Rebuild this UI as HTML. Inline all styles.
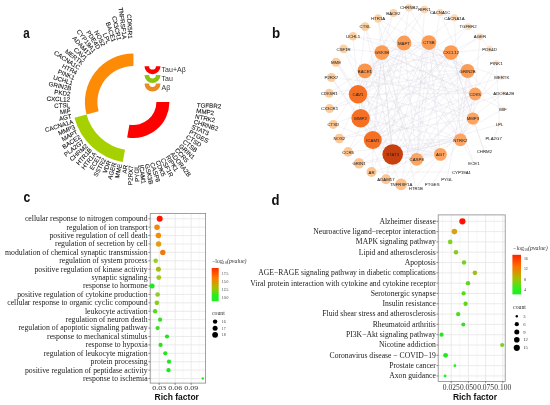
<!DOCTYPE html><html><head><meta charset="utf-8"><style>html,body{margin:0;padding:0;background:#fff;width:550px;height:405px;overflow:hidden}svg{display:block;filter:blur(0.3px)}</style></head><body><svg width="550" height="405" viewBox="0 0 550 405"><rect width="550" height="405" fill="#fff"/><g font-family='"Liberation Sans", sans-serif' font-weight="bold" font-size="14.5" fill="#111">
<text transform="translate(23.3 37.6) scale(0.8 1)">a</text>
<text transform="translate(271.9 37.6) scale(0.92 1)">b</text>
<text transform="translate(23.5 202.2) scale(0.84 1)">c</text>
<text transform="translate(271.6 204.8) scale(0.9 1)">d</text>
</g>
<path d="M169.40,102.00A36,36 0 0 1 127.15,137.45L129.41,124.65A23,23 0 0 0 156.40,102.00Z" fill="#ff0000"/>
<path d="M122.81,162.07A61,61 0 0 1 74.48,117.79L86.55,114.55A48.5,48.5 0 0 0 124.98,149.76Z" fill="#a6d000"/>
<path d="M86.55,114.55A48.5,48.5 0 0 1 133.40,53.50L133.40,66.00A36,36 0 0 0 98.63,111.32Z" fill="#fd8b05"/>
<g font-family='"Liberation Sans", sans-serif' font-size="6.2" fill="#111" stroke="#111" stroke-width="0.08">
<text x="130.63" y="38.56" text-anchor="end" dominant-baseline="central" transform="rotate(87.50 130.63 38.56)">CDK5R1</text>
<text x="125.11" y="39.04" text-anchor="end" dominant-baseline="central" transform="rotate(82.50 125.11 39.04)">TNFRSF1A</text>
<text x="119.66" y="40.01" text-anchor="end" dominant-baseline="central" transform="rotate(77.50 119.66 40.01)">CX3CR1</text>
<text x="114.31" y="41.44" text-anchor="end" dominant-baseline="central" transform="rotate(72.50 114.31 41.44)">BACE1</text>
<text x="109.10" y="43.33" text-anchor="end" dominant-baseline="central" transform="rotate(67.50 109.10 43.33)">LPL</text>
<text x="104.08" y="45.67" text-anchor="end" dominant-baseline="central" transform="rotate(62.50 104.08 45.67)">NOS2</text>
<text x="99.28" y="48.44" text-anchor="end" dominant-baseline="central" transform="rotate(57.50 99.28 48.44)">PDE4D</text>
<text x="94.74" y="51.62" text-anchor="end" dominant-baseline="central" transform="rotate(52.50 94.74 51.62)">CYP19A1</text>
<text x="90.50" y="55.18" text-anchor="end" dominant-baseline="central" transform="rotate(47.50 90.50 55.18)">ADAM17</text>
<text x="86.58" y="59.10" text-anchor="end" dominant-baseline="central" transform="rotate(42.50 86.58 59.10)">CAV1</text>
<text x="83.02" y="63.34" text-anchor="end" dominant-baseline="central" transform="rotate(37.50 83.02 63.34)">MERTK</text>
<text x="79.84" y="67.88" text-anchor="end" dominant-baseline="central" transform="rotate(32.50 79.84 67.88)">CACNA1C</text>
<text x="77.07" y="72.68" text-anchor="end" dominant-baseline="central" transform="rotate(27.50 77.07 72.68)">HTR4</text>
<text x="74.73" y="77.70" text-anchor="end" dominant-baseline="central" transform="rotate(22.50 74.73 77.70)">PINK1</text>
<text x="72.84" y="82.91" text-anchor="end" dominant-baseline="central" transform="rotate(17.50 72.84 82.91)">UCHL1</text>
<text x="71.41" y="88.26" text-anchor="end" dominant-baseline="central" transform="rotate(12.50 71.41 88.26)">GRIN2B</text>
<text x="70.44" y="93.71" text-anchor="end" dominant-baseline="central" transform="rotate(7.50 70.44 93.71)">PKD2</text>
<text x="69.96" y="99.23" text-anchor="end" dominant-baseline="central" transform="rotate(2.50 69.96 99.23)">CXCL12</text>
<text x="69.96" y="104.77" text-anchor="end" dominant-baseline="central" transform="rotate(-2.50 69.96 104.77)">CTSL</text>
<text x="70.44" y="110.29" text-anchor="end" dominant-baseline="central" transform="rotate(-7.50 70.44 110.29)">MIF</text>
<text x="71.41" y="115.74" text-anchor="end" dominant-baseline="central" transform="rotate(-12.50 71.41 115.74)">AGT</text>
<text x="72.84" y="121.09" text-anchor="end" dominant-baseline="central" transform="rotate(-17.50 72.84 121.09)">CACNA1A</text>
<text x="74.73" y="126.30" text-anchor="end" dominant-baseline="central" transform="rotate(-22.50 74.73 126.30)">MMP3</text>
<text x="77.07" y="131.32" text-anchor="end" dominant-baseline="central" transform="rotate(-27.50 77.07 131.32)">MAPT</text>
<text x="79.84" y="136.12" text-anchor="end" dominant-baseline="central" transform="rotate(-32.50 79.84 136.12)">BACE2</text>
<text x="83.02" y="140.66" text-anchor="end" dominant-baseline="central" transform="rotate(-37.50 83.02 140.66)">PLA2G7</text>
<text x="86.58" y="144.90" text-anchor="end" dominant-baseline="central" transform="rotate(-42.50 86.58 144.90)">CHRM2</text>
<text x="90.50" y="148.82" text-anchor="end" dominant-baseline="central" transform="rotate(-47.50 90.50 148.82)">HTR1B</text>
<text x="94.74" y="152.38" text-anchor="end" dominant-baseline="central" transform="rotate(-52.50 94.74 152.38)">HTR1A</text>
<text x="99.28" y="155.56" text-anchor="end" dominant-baseline="central" transform="rotate(-57.50 99.28 155.56)">ECE1</text>
<text x="104.08" y="158.33" text-anchor="end" dominant-baseline="central" transform="rotate(-62.50 104.08 158.33)">SSTR2</text>
<text x="109.10" y="160.67" text-anchor="end" dominant-baseline="central" transform="rotate(-67.50 109.10 160.67)">VDR</text>
<text x="114.31" y="162.56" text-anchor="end" dominant-baseline="central" transform="rotate(-72.50 114.31 162.56)">AGER</text>
<text x="119.66" y="163.99" text-anchor="end" dominant-baseline="central" transform="rotate(-77.50 119.66 163.99)">MME</text>
<text x="125.11" y="164.96" text-anchor="end" dominant-baseline="central" transform="rotate(-82.50 125.11 164.96)">AR</text>
<text x="130.63" y="165.44" text-anchor="end" dominant-baseline="central" transform="rotate(-87.50 130.63 165.44)">P2RX7</text>
<text x="136.17" y="165.44" text-anchor="end" dominant-baseline="central" transform="rotate(-92.50 136.17 165.44)">PYGL</text>
<text x="141.69" y="164.96" text-anchor="start" dominant-baseline="central" transform="rotate(82.50 141.69 164.96)">ICAM1</text>
<text x="147.14" y="163.99" text-anchor="start" dominant-baseline="central" transform="rotate(77.50 147.14 163.99)">GSK3B</text>
<text x="152.49" y="162.56" text-anchor="start" dominant-baseline="central" transform="rotate(72.50 152.49 162.56)">CASP8</text>
<text x="157.70" y="160.67" text-anchor="start" dominant-baseline="central" transform="rotate(67.50 157.70 160.67)">CDK5</text>
<text x="162.72" y="158.33" text-anchor="start" dominant-baseline="central" transform="rotate(62.50 162.72 158.33)">CSF1R</text>
<text x="167.52" y="155.56" text-anchor="start" dominant-baseline="central" transform="rotate(57.50 167.52 155.56)">RIPK1</text>
<text x="172.06" y="152.38" text-anchor="start" dominant-baseline="central" transform="rotate(52.50 172.06 152.38)">ADORA2B</text>
<text x="176.30" y="148.82" text-anchor="start" dominant-baseline="central" transform="rotate(47.50 176.30 148.82)">CCR5</text>
<text x="180.22" y="144.90" text-anchor="start" dominant-baseline="central" transform="rotate(42.50 180.22 144.90)">GRIN1</text>
<text x="183.78" y="140.66" text-anchor="start" dominant-baseline="central" transform="rotate(37.50 183.78 140.66)">CTSB</text>
<text x="186.96" y="136.12" text-anchor="start" dominant-baseline="central" transform="rotate(32.50 186.96 136.12)">CTSD</text>
<text x="189.73" y="131.32" text-anchor="start" dominant-baseline="central" transform="rotate(27.50 189.73 131.32)">PTGES</text>
<text x="192.07" y="126.30" text-anchor="start" dominant-baseline="central" transform="rotate(22.50 192.07 126.30)">STAT3</text>
<text x="193.96" y="121.09" text-anchor="start" dominant-baseline="central" transform="rotate(17.50 193.96 121.09)">CHRNB2</text>
<text x="195.39" y="115.74" text-anchor="start" dominant-baseline="central" transform="rotate(12.50 195.39 115.74)">NTRK2</text>
<text x="196.36" y="110.29" text-anchor="start" dominant-baseline="central" transform="rotate(7.50 196.36 110.29)">MMP2</text>
<text x="196.84" y="104.77" text-anchor="start" dominant-baseline="central" transform="rotate(2.50 196.84 104.77)">TGFBR2</text>
</g>
<path d="M144.5,66.2 A8.0,8.0 0 0 0 160.5,66.2 L155.9,66.2 A3.4,3.4 0 0 1 149.1,66.2 Z" fill="#ff0000"/>
<path d="M144.5,75.0 A8.0,8.0 0 0 0 160.5,75.0 L155.9,75.0 A3.4,3.4 0 0 1 149.1,75.0 Z" fill="#8cc414"/>
<path d="M144.5,83.6 A8.0,8.0 0 0 0 160.5,83.6 L155.9,83.6 A3.4,3.4 0 0 1 149.1,83.6 Z" fill="#ec8a22"/>
<g font-family='"Liberation Sans", sans-serif' font-size="7" fill="#333">
<text x="161.6" y="72">Tau+Aβ</text>
<text x="161.6" y="80.6">Tau</text>
<text x="161.6" y="89.6">Aβ</text>
</g>
<g stroke="#d2d0dc" stroke-width="0.9" fill="none" stroke-opacity="0.3">
<line x1="440.4" y1="154.4" x2="358.0" y2="94.2"/>
<line x1="460.4" y1="139.8" x2="360.6" y2="118.3"/>
<line x1="460.4" y1="139.8" x2="348.1" y2="151.9"/>
<line x1="372.8" y1="140.0" x2="360.6" y2="118.3"/>
<line x1="460.4" y1="139.8" x2="496.3" y2="63.0"/>
<line x1="460.4" y1="139.8" x2="474.0" y2="163.4"/>
<line x1="460.4" y1="139.8" x2="416.7" y2="159.3"/>
<line x1="381.9" y1="52.6" x2="339.3" y2="138.5"/>
<line x1="358.0" y1="94.2" x2="468.0" y2="26.7"/>
<line x1="372.8" y1="140.0" x2="331.4" y2="77.5"/>
<line x1="467.6" y1="71.0" x2="447.0" y2="179.3"/>
<line x1="358.0" y1="94.2" x2="454.4" y2="17.8"/>
<line x1="372.8" y1="140.0" x2="358.0" y2="94.2"/>
<line x1="472.9" y1="118.6" x2="432.2" y2="184.4"/>
<line x1="467.6" y1="71.0" x2="416.7" y2="159.3"/>
<line x1="475.2" y1="94.0" x2="372.8" y2="140.0"/>
<line x1="416.7" y1="159.3" x2="365.1" y2="26.7"/>
<line x1="358.0" y1="94.2" x2="336.0" y2="62.2"/>
<line x1="404.0" y1="43.0" x2="428.9" y2="42.6"/>
<line x1="381.9" y1="52.6" x2="393.4" y2="13.0"/>
<line x1="440.0" y1="12.6" x2="454.4" y2="17.8"/>
<line x1="404.0" y1="43.0" x2="348.1" y2="151.9"/>
<line x1="404.0" y1="43.0" x2="360.6" y2="118.3"/>
<line x1="496.3" y1="63.0" x2="499.5" y2="124.2"/>
<line x1="392.7" y1="154.5" x2="386.0" y2="179.3"/>
<line x1="475.2" y1="94.0" x2="392.7" y2="154.5"/>
<line x1="472.9" y1="118.6" x2="440.4" y2="154.4"/>
<line x1="428.9" y1="42.6" x2="372.8" y2="140.0"/>
<line x1="472.9" y1="118.6" x2="358.0" y2="94.2"/>
<line x1="404.0" y1="43.0" x2="424.4" y2="9.6"/>
<line x1="428.9" y1="42.6" x2="371.5" y2="172.0"/>
<line x1="358.0" y1="94.2" x2="365.1" y2="26.7"/>
<line x1="416.7" y1="159.3" x2="440.0" y2="12.6"/>
<line x1="440.4" y1="154.4" x2="372.8" y2="140.0"/>
<line x1="428.9" y1="42.6" x2="475.2" y2="94.0"/>
<line x1="392.7" y1="154.5" x2="360.6" y2="118.3"/>
<line x1="460.4" y1="139.8" x2="454.4" y2="17.8"/>
<line x1="378.1" y1="18.5" x2="415.9" y2="188.1"/>
<line x1="475.2" y1="94.0" x2="364.9" y2="70.8"/>
<line x1="404.0" y1="43.0" x2="460.4" y2="139.8"/>
<line x1="467.6" y1="71.0" x2="353.0" y2="36.3"/>
<line x1="404.0" y1="43.0" x2="451.0" y2="52.6"/>
<line x1="489.6" y1="48.9" x2="480.0" y2="36.6"/>
<line x1="475.2" y1="94.0" x2="339.3" y2="138.5"/>
<line x1="392.7" y1="154.5" x2="365.1" y2="26.7"/>
<line x1="451.0" y1="52.6" x2="372.8" y2="140.0"/>
<line x1="416.7" y1="159.3" x2="336.0" y2="62.2"/>
<line x1="381.9" y1="52.6" x2="428.9" y2="42.6"/>
<line x1="416.7" y1="159.3" x2="371.5" y2="172.0"/>
<line x1="440.4" y1="154.4" x2="359.0" y2="163.3"/>
<line x1="381.9" y1="52.6" x2="360.6" y2="118.3"/>
<line x1="451.0" y1="52.6" x2="475.2" y2="94.0"/>
<line x1="392.7" y1="154.5" x2="343.6" y2="48.9"/>
<line x1="501.8" y1="77.4" x2="386.0" y2="179.3"/>
<line x1="364.9" y1="70.8" x2="409.0" y2="7.7"/>
<line x1="381.9" y1="52.6" x2="329.6" y2="108.6"/>
<line x1="360.6" y1="118.3" x2="331.4" y2="77.5"/>
<line x1="381.9" y1="52.6" x2="424.4" y2="9.6"/>
<line x1="460.4" y1="139.8" x2="358.0" y2="94.2"/>
<line x1="428.9" y1="42.6" x2="467.6" y2="71.0"/>
<line x1="428.9" y1="42.6" x2="364.9" y2="70.8"/>
<line x1="381.9" y1="52.6" x2="333.3" y2="124.4"/>
<line x1="440.4" y1="154.4" x2="364.9" y2="70.8"/>
<line x1="460.4" y1="139.8" x2="359.0" y2="163.3"/>
<line x1="440.4" y1="154.4" x2="415.9" y2="188.1"/>
<line x1="404.0" y1="43.0" x2="353.0" y2="36.3"/>
<line x1="404.0" y1="43.0" x2="386.0" y2="179.3"/>
<line x1="451.0" y1="52.6" x2="392.7" y2="154.5"/>
<line x1="381.9" y1="52.6" x2="460.4" y2="139.8"/>
<line x1="451.0" y1="52.6" x2="472.9" y2="118.6"/>
<line x1="451.0" y1="52.6" x2="484.4" y2="151.6"/>
<line x1="503.0" y1="108.8" x2="416.7" y2="159.3"/>
<line x1="467.6" y1="71.0" x2="359.0" y2="163.3"/>
<line x1="428.9" y1="42.6" x2="401.1" y2="184.4"/>
<line x1="451.0" y1="52.6" x2="467.6" y2="71.0"/>
<line x1="451.0" y1="52.6" x2="364.9" y2="70.8"/>
<line x1="404.0" y1="43.0" x2="416.7" y2="159.3"/>
<line x1="381.9" y1="52.6" x2="404.0" y2="43.0"/>
<line x1="404.0" y1="43.0" x2="501.8" y2="77.4"/>
<line x1="392.7" y1="154.5" x2="336.0" y2="62.2"/>
<line x1="404.0" y1="43.0" x2="358.0" y2="94.2"/>
<line x1="360.6" y1="118.3" x2="480.0" y2="36.6"/>
<line x1="472.9" y1="118.6" x2="484.4" y2="151.6"/>
<line x1="360.6" y1="118.3" x2="386.0" y2="179.3"/>
<line x1="460.4" y1="139.8" x2="372.8" y2="140.0"/>
<line x1="358.0" y1="94.2" x2="364.9" y2="70.8"/>
<line x1="472.9" y1="118.6" x2="364.9" y2="70.8"/>
<line x1="428.9" y1="42.6" x2="392.7" y2="154.5"/>
<line x1="440.4" y1="154.4" x2="392.7" y2="154.5"/>
<line x1="503.7" y1="93.3" x2="372.8" y2="140.0"/>
<line x1="467.6" y1="71.0" x2="372.8" y2="140.0"/>
<line x1="472.9" y1="118.6" x2="339.3" y2="138.5"/>
<line x1="475.2" y1="94.0" x2="331.4" y2="77.5"/>
<line x1="381.9" y1="52.6" x2="416.7" y2="159.3"/>
<line x1="364.9" y1="70.8" x2="393.4" y2="13.0"/>
<line x1="360.6" y1="118.3" x2="358.0" y2="94.2"/>
<line x1="358.0" y1="94.2" x2="329.2" y2="93.3"/>
<line x1="371.5" y1="172.0" x2="461.5" y2="172.1"/>
<line x1="358.0" y1="94.2" x2="401.1" y2="184.4"/>
<line x1="381.9" y1="52.6" x2="440.4" y2="154.4"/>
<line x1="475.2" y1="94.0" x2="460.4" y2="139.8"/>
<line x1="381.9" y1="52.6" x2="358.0" y2="94.2"/>
<line x1="460.4" y1="139.8" x2="392.7" y2="154.5"/>
<line x1="392.7" y1="154.5" x2="499.5" y2="124.2"/>
<line x1="416.7" y1="159.3" x2="392.7" y2="154.5"/>
<line x1="460.4" y1="139.8" x2="378.1" y2="18.5"/>
<line x1="428.9" y1="42.6" x2="474.0" y2="163.4"/>
<line x1="381.9" y1="52.6" x2="343.6" y2="48.9"/>
<line x1="472.9" y1="118.6" x2="409.0" y2="7.7"/>
<line x1="467.6" y1="71.0" x2="392.7" y2="154.5"/>
<line x1="404.0" y1="43.0" x2="372.8" y2="140.0"/>
<line x1="372.8" y1="140.0" x2="364.9" y2="70.8"/>
<line x1="467.6" y1="71.0" x2="472.9" y2="118.6"/>
<line x1="467.6" y1="71.0" x2="378.1" y2="18.5"/>
<line x1="416.7" y1="159.3" x2="364.9" y2="70.8"/>
<line x1="440.4" y1="154.4" x2="401.1" y2="184.4"/>
<line x1="409.0" y1="7.7" x2="454.4" y2="17.8"/>
<line x1="451.0" y1="52.6" x2="480.0" y2="36.6"/>
<line x1="475.2" y1="94.0" x2="440.0" y2="12.6"/>
<line x1="451.0" y1="52.6" x2="489.6" y2="48.9"/>
<line x1="467.6" y1="71.0" x2="503.0" y2="108.8"/>
<line x1="467.6" y1="71.0" x2="364.9" y2="70.8"/>
<line x1="428.9" y1="42.6" x2="460.4" y2="139.8"/>
<line x1="392.7" y1="154.5" x2="372.8" y2="140.0"/>
<line x1="451.0" y1="52.6" x2="348.1" y2="151.9"/>
<line x1="360.6" y1="118.3" x2="353.0" y2="36.3"/>
<line x1="416.7" y1="159.3" x2="496.3" y2="63.0"/>
<line x1="451.0" y1="52.6" x2="329.6" y2="108.6"/>
<line x1="416.7" y1="159.3" x2="424.4" y2="9.6"/>
<line x1="372.8" y1="140.0" x2="333.3" y2="124.4"/>
<line x1="451.0" y1="52.6" x2="416.7" y2="159.3"/>
<line x1="416.7" y1="159.3" x2="503.7" y2="93.3"/>
<line x1="416.7" y1="159.3" x2="401.1" y2="184.4"/>
<line x1="467.6" y1="71.0" x2="329.6" y2="108.6"/>
<line x1="404.0" y1="43.0" x2="472.9" y2="118.6"/>
<line x1="467.6" y1="71.0" x2="329.2" y2="93.3"/>
<line x1="472.9" y1="118.6" x2="480.0" y2="36.6"/>
<line x1="467.6" y1="71.0" x2="333.3" y2="124.4"/>
<line x1="475.2" y1="94.0" x2="416.7" y2="159.3"/>
<line x1="381.9" y1="52.6" x2="372.8" y2="140.0"/>
<line x1="404.0" y1="43.0" x2="364.9" y2="70.8"/>
<line x1="381.9" y1="52.6" x2="371.5" y2="172.0"/>
<line x1="360.6" y1="118.3" x2="501.8" y2="77.4"/>
<line x1="381.9" y1="52.6" x2="475.2" y2="94.0"/>
<line x1="364.9" y1="70.8" x2="343.6" y2="48.9"/>
<line x1="392.7" y1="154.5" x2="378.1" y2="18.5"/>
<line x1="467.6" y1="71.0" x2="460.4" y2="139.8"/>
<line x1="499.5" y1="124.2" x2="493.6" y2="138.5"/>
<line x1="358.0" y1="94.2" x2="503.7" y2="93.3"/>
<line x1="467.6" y1="71.0" x2="393.4" y2="13.0"/>
<line x1="468.0" y1="26.7" x2="480.0" y2="36.6"/>
<line x1="404.0" y1="43.0" x2="329.2" y2="93.3"/>
<line x1="372.8" y1="140.0" x2="468.0" y2="26.7"/>
<line x1="381.9" y1="52.6" x2="392.7" y2="154.5"/>
<line x1="428.9" y1="42.6" x2="416.7" y2="159.3"/>
<line x1="381.9" y1="52.6" x2="472.9" y2="118.6"/>
<line x1="440.4" y1="154.4" x2="416.7" y2="159.3"/>
<line x1="360.6" y1="118.3" x2="364.9" y2="70.8"/>
<line x1="372.8" y1="140.0" x2="489.6" y2="48.9"/>
<line x1="428.9" y1="42.6" x2="440.4" y2="154.4"/>
<line x1="404.0" y1="43.0" x2="409.0" y2="7.7"/>
<line x1="428.9" y1="42.6" x2="358.0" y2="94.2"/>
<line x1="381.9" y1="52.6" x2="503.0" y2="108.8"/>
<line x1="381.9" y1="52.6" x2="467.6" y2="71.0"/>
</g>
<circle cx="381.9" cy="52.6" r="7.4" fill="#fc9c54"/>
<circle cx="404.0" cy="43.0" r="7.4" fill="#fc9c54"/>
<circle cx="428.9" cy="42.6" r="7.4" fill="#fc9c54"/>
<circle cx="451.0" cy="52.6" r="7.4" fill="#fc9c54"/>
<circle cx="467.6" cy="71.0" r="7.0" fill="#fc9c54"/>
<circle cx="475.2" cy="94.0" r="6.4" fill="#fda462"/>
<circle cx="472.9" cy="118.6" r="6.2" fill="#fda462"/>
<circle cx="460.4" cy="139.8" r="6.4" fill="#fda462"/>
<circle cx="440.4" cy="154.4" r="6.4" fill="#fda462"/>
<circle cx="416.7" cy="159.3" r="6.4" fill="#fda462"/>
<circle cx="392.7" cy="154.5" r="10.3" fill="#c8400e"/>
<circle cx="372.8" cy="140.0" r="9.0" fill="#f56f24"/>
<circle cx="360.6" cy="118.3" r="9.2" fill="#f56f24"/>
<circle cx="358.0" cy="94.2" r="9.2" fill="#f56f24"/>
<circle cx="364.9" cy="70.8" r="7.4" fill="#fc954c"/>
<circle cx="393.4" cy="13.0" r="4.0" fill="#fdd0a8"/>
<circle cx="409.0" cy="7.7" r="3.8" fill="#fdd6b2"/>
<circle cx="424.4" cy="9.6" r="3.8" fill="#fdd6b2"/>
<circle cx="440.0" cy="12.6" r="3.6" fill="#fddab8"/>
<circle cx="454.4" cy="17.8" r="3.6" fill="#fddab8"/>
<circle cx="468.0" cy="26.7" r="3.4" fill="#fde0c4"/>
<circle cx="480.0" cy="36.6" r="3.4" fill="#fde0c4"/>
<circle cx="489.6" cy="48.9" r="3.2" fill="#fde4cc"/>
<circle cx="496.3" cy="63.0" r="3.0" fill="#fde8d4"/>
<circle cx="501.8" cy="77.4" r="2.6" fill="#feecdc"/>
<circle cx="503.7" cy="93.3" r="2.4" fill="#feeee0"/>
<circle cx="503.0" cy="108.8" r="2.4" fill="#feeee0"/>
<circle cx="499.5" cy="124.2" r="2.4" fill="#feeee0"/>
<circle cx="493.6" cy="138.5" r="1.5" fill="#fff4ec"/>
<circle cx="484.4" cy="151.6" r="1.5" fill="#fff4ec"/>
<circle cx="474.0" cy="163.4" r="1.5" fill="#fff4ec"/>
<circle cx="461.5" cy="172.1" r="1.5" fill="#fff4ec"/>
<circle cx="447.0" cy="179.3" r="1.5" fill="#fff4ec"/>
<circle cx="432.2" cy="184.4" r="1.5" fill="#fff4ec"/>
<circle cx="415.9" cy="188.1" r="1.5" fill="#fff4ec"/>
<circle cx="401.1" cy="184.4" r="5.8" fill="#fdc08a"/>
<circle cx="386.0" cy="179.3" r="5.0" fill="#fdc48f"/>
<circle cx="371.5" cy="172.0" r="5.0" fill="#fdc48f"/>
<circle cx="359.0" cy="163.3" r="5.2" fill="#fdc48f"/>
<circle cx="348.1" cy="151.9" r="4.8" fill="#fdc896"/>
<circle cx="339.3" cy="138.5" r="4.8" fill="#fdc896"/>
<circle cx="333.3" cy="124.4" r="4.5" fill="#fdc896"/>
<circle cx="329.6" cy="108.6" r="4.5" fill="#fdcc9c"/>
<circle cx="329.2" cy="93.3" r="4.5" fill="#fdcc9c"/>
<circle cx="331.4" cy="77.5" r="4.5" fill="#fdcc9c"/>
<circle cx="336.0" cy="62.2" r="4.5" fill="#fdcc9c"/>
<circle cx="343.6" cy="48.9" r="4.4" fill="#fdd0a2"/>
<circle cx="353.0" cy="36.3" r="4.2" fill="#fdd0a2"/>
<circle cx="365.1" cy="26.7" r="4.4" fill="#fdd0a2"/>
<circle cx="378.1" cy="18.5" r="4.2" fill="#fdd0a2"/>
<g font-family='"Liberation Sans", sans-serif' font-size="3.95" fill="#2a2a2a" stroke="#2a2a2a" stroke-width="0.02" text-anchor="middle">
<text transform="translate(381.9 54.35) scale(1.1 1)">GSK3B</text>
<text transform="translate(404.0 44.75) scale(1.1 1)">MAPT</text>
<text transform="translate(428.9 44.35) scale(1.1 1)">CTSB</text>
<text transform="translate(451.0 54.35) scale(1.1 1)">CXCL12</text>
<text transform="translate(467.6 72.75) scale(1.1 1)">GRIN2B</text>
<text transform="translate(475.2 95.75) scale(1.1 1)">CDK5</text>
<text transform="translate(472.9 120.35) scale(1.1 1)">MMP3</text>
<text transform="translate(460.4 141.55) scale(1.1 1)">NTRK2</text>
<text transform="translate(440.4 156.15) scale(1.1 1)">AGT</text>
<text transform="translate(416.7 161.05) scale(1.1 1)">CASP8</text>
<text transform="translate(392.7 156.25) scale(1.1 1)">STAT3</text>
<text transform="translate(372.8 141.75) scale(1.1 1)">ICAM1</text>
<text transform="translate(360.6 120.05) scale(1.1 1)">MMP2</text>
<text transform="translate(358.0 95.95) scale(1.1 1)">CAV1</text>
<text transform="translate(364.9 72.55) scale(1.1 1)">BACE1</text>
<text transform="translate(393.4 14.75) scale(1.1 1)">BACE2</text>
<text transform="translate(409.0 9.45) scale(1.1 1)">CHRNB2</text>
<text transform="translate(424.4 11.35) scale(1.1 1)">RIPK1</text>
<text transform="translate(440.0 14.35) scale(1.1 1)">CACNA1C</text>
<text transform="translate(454.4 19.55) scale(1.1 1)">CACNA1A</text>
<text transform="translate(468.0 28.45) scale(1.1 1)">TGFBR2</text>
<text transform="translate(480.0 38.35) scale(1.1 1)">AGER</text>
<text transform="translate(489.6 50.65) scale(1.1 1)">PDE4D</text>
<text transform="translate(496.3 64.75) scale(1.1 1)">PINK1</text>
<text transform="translate(501.8 79.15) scale(1.1 1)">MERTK</text>
<text transform="translate(503.7 95.05) scale(1.1 1)">ADORA2B</text>
<text transform="translate(503.0 110.55) scale(1.1 1)">MIF</text>
<text transform="translate(499.5 125.95) scale(1.1 1)">LPL</text>
<text transform="translate(493.6 140.25) scale(1.1 1)">PLA2G7</text>
<text transform="translate(484.4 153.35) scale(1.1 1)">CHRM2</text>
<text transform="translate(474.0 165.15) scale(1.1 1)">ECE1</text>
<text transform="translate(461.5 173.85) scale(1.1 1)">CYP19A1</text>
<text transform="translate(447.0 181.05) scale(1.1 1)">PYGL</text>
<text transform="translate(432.2 186.15) scale(1.1 1)">PTGES</text>
<text transform="translate(415.9 189.85) scale(1.1 1)">HTR1B</text>
<text transform="translate(401.1 186.15) scale(1.1 1)">TNFRSF1A</text>
<text transform="translate(386.0 181.05) scale(1.1 1)">ADAM17</text>
<text transform="translate(371.5 173.75) scale(1.1 1)">AR</text>
<text transform="translate(359.0 165.05) scale(1.1 1)">GRIN1</text>
<text transform="translate(348.1 153.65) scale(1.1 1)">CCR5</text>
<text transform="translate(339.3 140.25) scale(1.1 1)">NOS2</text>
<text transform="translate(333.3 126.15) scale(1.1 1)">CTSD</text>
<text transform="translate(329.6 110.35) scale(1.1 1)">CX3CR1</text>
<text transform="translate(329.2 95.05) scale(1.1 1)">CDK5R1</text>
<text transform="translate(331.4 79.25) scale(1.1 1)">P2RX7</text>
<text transform="translate(336.0 63.95) scale(1.1 1)">MME</text>
<text transform="translate(343.6 50.65) scale(1.1 1)">CSF1R</text>
<text transform="translate(353.0 38.05) scale(1.1 1)">UCHL1</text>
<text transform="translate(365.1 28.45) scale(1.1 1)">CTSL</text>
<text transform="translate(378.1 20.25) scale(1.1 1)">HTR1A</text>
</g>
<rect x="150.2" y="213.5" width="55.400000000000006" height="169.60000000000002" fill="#fff"/>
<g stroke="#ececec" stroke-width="0.45">
<line x1="151.2" y1="213.5" x2="151.2" y2="383.1"/>
<line x1="167.2" y1="213.5" x2="167.2" y2="383.1"/>
<line x1="183.2" y1="213.5" x2="183.2" y2="383.1"/>
<line x1="199.2" y1="213.5" x2="199.2" y2="383.1"/>
</g>
<g stroke="#e6e6e6" stroke-width="0.8">
<line x1="159.2" y1="213.5" x2="159.2" y2="383.1"/>
<line x1="175.2" y1="213.5" x2="175.2" y2="383.1"/>
<line x1="191.2" y1="213.5" x2="191.2" y2="383.1"/>
<line x1="150.2" y1="218.75" x2="205.6" y2="218.75"/>
<line x1="150.2" y1="227.16" x2="205.6" y2="227.16"/>
<line x1="150.2" y1="235.57" x2="205.6" y2="235.57"/>
<line x1="150.2" y1="243.98" x2="205.6" y2="243.98"/>
<line x1="150.2" y1="252.39" x2="205.6" y2="252.39"/>
<line x1="150.2" y1="260.80" x2="205.6" y2="260.80"/>
<line x1="150.2" y1="269.21" x2="205.6" y2="269.21"/>
<line x1="150.2" y1="277.62" x2="205.6" y2="277.62"/>
<line x1="150.2" y1="286.03" x2="205.6" y2="286.03"/>
<line x1="150.2" y1="294.44" x2="205.6" y2="294.44"/>
<line x1="150.2" y1="302.85" x2="205.6" y2="302.85"/>
<line x1="150.2" y1="311.26" x2="205.6" y2="311.26"/>
<line x1="150.2" y1="319.67" x2="205.6" y2="319.67"/>
<line x1="150.2" y1="328.08" x2="205.6" y2="328.08"/>
<line x1="150.2" y1="336.49" x2="205.6" y2="336.49"/>
<line x1="150.2" y1="344.90" x2="205.6" y2="344.90"/>
<line x1="150.2" y1="353.31" x2="205.6" y2="353.31"/>
<line x1="150.2" y1="361.72" x2="205.6" y2="361.72"/>
<line x1="150.2" y1="370.13" x2="205.6" y2="370.13"/>
<line x1="150.2" y1="378.54" x2="205.6" y2="378.54"/>
</g>
<rect x="150.2" y="213.5" width="55.400000000000006" height="169.60000000000002" fill="none" stroke="#8a8a8a" stroke-width="0.8"/>
<g stroke="#444" stroke-width="0.6">
<line x1="148.39999999999998" y1="218.75" x2="150.2" y2="218.75"/>
<line x1="148.39999999999998" y1="227.16" x2="150.2" y2="227.16"/>
<line x1="148.39999999999998" y1="235.57" x2="150.2" y2="235.57"/>
<line x1="148.39999999999998" y1="243.98" x2="150.2" y2="243.98"/>
<line x1="148.39999999999998" y1="252.39" x2="150.2" y2="252.39"/>
<line x1="148.39999999999998" y1="260.80" x2="150.2" y2="260.80"/>
<line x1="148.39999999999998" y1="269.21" x2="150.2" y2="269.21"/>
<line x1="148.39999999999998" y1="277.62" x2="150.2" y2="277.62"/>
<line x1="148.39999999999998" y1="286.03" x2="150.2" y2="286.03"/>
<line x1="148.39999999999998" y1="294.44" x2="150.2" y2="294.44"/>
<line x1="148.39999999999998" y1="302.85" x2="150.2" y2="302.85"/>
<line x1="148.39999999999998" y1="311.26" x2="150.2" y2="311.26"/>
<line x1="148.39999999999998" y1="319.67" x2="150.2" y2="319.67"/>
<line x1="148.39999999999998" y1="328.08" x2="150.2" y2="328.08"/>
<line x1="148.39999999999998" y1="336.49" x2="150.2" y2="336.49"/>
<line x1="148.39999999999998" y1="344.90" x2="150.2" y2="344.90"/>
<line x1="148.39999999999998" y1="353.31" x2="150.2" y2="353.31"/>
<line x1="148.39999999999998" y1="361.72" x2="150.2" y2="361.72"/>
<line x1="148.39999999999998" y1="370.13" x2="150.2" y2="370.13"/>
<line x1="148.39999999999998" y1="378.54" x2="150.2" y2="378.54"/>
<line x1="159.2" y1="383.1" x2="159.2" y2="384.90000000000003"/>
<line x1="175.2" y1="383.1" x2="175.2" y2="384.90000000000003"/>
<line x1="191.2" y1="383.1" x2="191.2" y2="384.90000000000003"/>
</g>
<g font-family='"Liberation Serif", serif' font-size="7.76" fill="#1a1a1a" text-anchor="end">
<text x="147.6" y="221.15">cellular response to nitrogen compound</text>
<text x="147.6" y="229.56">regulation of ion transport</text>
<text x="147.6" y="237.97">positive regulation of cell death</text>
<text x="147.6" y="246.38">regulation of secretion by cell</text>
<text x="147.6" y="254.79">modulation of chemical synaptic transmission</text>
<text x="147.6" y="263.20">regulation of system process</text>
<text x="147.6" y="271.61">positive regulation of kinase activity</text>
<text x="147.6" y="280.02">synaptic signaling</text>
<text x="147.6" y="288.43">response to hormone</text>
<text x="147.6" y="296.84">positive regulation of cytokine production</text>
<text x="147.6" y="305.25">cellular response to organic cyclic compound</text>
<text x="147.6" y="313.66">leukocyte activation</text>
<text x="147.6" y="322.07">regulation of neuron death</text>
<text x="147.6" y="330.48">regulation of apoptotic signaling pathway</text>
<text x="147.6" y="338.89">response to mechanical stimulus</text>
<text x="147.6" y="347.30">response to hypoxia</text>
<text x="147.6" y="355.71">regulation of leukocyte migration</text>
<text x="147.6" y="364.12">protein processing</text>
<text x="147.6" y="372.53">positive regulation of peptidase activity</text>
<text x="147.6" y="380.94">response to ischemia</text>
</g>
<circle cx="159.7" cy="218.75" r="3.0" fill="#ff1400"/>
<circle cx="157.0" cy="227.16" r="2.75" fill="#ee8a08"/>
<circle cx="158.4" cy="235.57" r="2.75" fill="#ee8e0a"/>
<circle cx="158.6" cy="243.98" r="2.7" fill="#e09e10"/>
<circle cx="162.8" cy="252.39" r="2.7" fill="#f07810"/>
<circle cx="155.7" cy="260.80" r="2.3" fill="#94d21a"/>
<circle cx="158.4" cy="269.21" r="2.5" fill="#a8bc14"/>
<circle cx="158.8" cy="277.62" r="2.45" fill="#a0c81a"/>
<circle cx="152.1" cy="286.03" r="2.5" fill="#1ee81e"/>
<circle cx="157.6" cy="294.44" r="2.3" fill="#8ecc20"/>
<circle cx="156.9" cy="302.85" r="2.3" fill="#88cc20"/>
<circle cx="155.1" cy="311.26" r="2.2" fill="#50dc18"/>
<circle cx="160.1" cy="319.67" r="2.1" fill="#30e01e"/>
<circle cx="157.6" cy="328.08" r="2.1" fill="#40de1e"/>
<circle cx="167.0" cy="336.49" r="2.1" fill="#20e41e"/>
<circle cx="160.6" cy="344.90" r="2.1" fill="#2ce21e"/>
<circle cx="165.3" cy="353.31" r="2.1" fill="#26e41e"/>
<circle cx="169.0" cy="361.72" r="2.1" fill="#1ee61e"/>
<circle cx="168.5" cy="370.13" r="2.1" fill="#1ee61e"/>
<circle cx="202.8" cy="378.54" r="1.2" fill="#1ef01e"/>
<g font-family='"Liberation Serif", serif' font-size="6.6" fill="#333" text-anchor="middle">
<text x="159.2" y="390.2" textLength="13.9" lengthAdjust="spacingAndGlyphs">0.03</text>
<text x="175.2" y="390.2" textLength="13.9" lengthAdjust="spacingAndGlyphs">0.06</text>
<text x="191.2" y="390.2" textLength="13.9" lengthAdjust="spacingAndGlyphs">0.09</text>
</g>
<text x="154.5" y="400.2" font-family='"Liberation Sans", sans-serif' font-weight="bold" font-size="9.2" fill="#111" textLength="44.4" lengthAdjust="spacingAndGlyphs">Rich factor</text>
<defs><linearGradient id="gc" x1="0" y1="0" x2="0" y2="1"><stop offset="0" stop-color="#ff2a00"/><stop offset="0.3" stop-color="#ff7a00"/><stop offset="0.6" stop-color="#a8c000"/><stop offset="0.85" stop-color="#22ee22"/><stop offset="1" stop-color="#1ef01e"/></linearGradient><linearGradient id="gd" x1="0" y1="0" x2="0" y2="1"><stop offset="0" stop-color="#ff2200"/><stop offset="0.3" stop-color="#ff7000"/><stop offset="0.6" stop-color="#a8c000"/><stop offset="0.85" stop-color="#30ee20"/><stop offset="1" stop-color="#1ef01e"/></linearGradient></defs>
<rect x="211.7" y="268" width="7" height="33.2" fill="url(#gc)"/>
<g font-family='"Liberation Serif", serif' fill="#333">
<text x="212" y="262.7" font-size="5.9">−log<tspan font-size="4.1" dy="1.2">10</tspan><tspan dy="-1.2" font-style="italic">(pvalue)</tspan></text>
<text x="221.8" y="274.8" font-size="3.8">17.5</text>
<text x="221.8" y="283.2" font-size="3.8">15.0</text>
<text x="221.8" y="290.8" font-size="3.8">12.5</text>
<text x="221.8" y="299.2" font-size="3.8">10.0</text>
<text x="212" y="314.5" font-size="5.8">count</text>
<circle cx="215.1" cy="321.6" r="2.2" fill="#000"/>
<text x="221.8" y="322.90000000000003" font-size="3.8">16</text>
<circle cx="215.1" cy="328.2" r="2.5" fill="#000"/>
<text x="221.8" y="329.5" font-size="3.8">17</text>
<circle cx="215.1" cy="334.8" r="2.9" fill="#000"/>
<text x="221.8" y="336.1" font-size="3.8">18</text>
</g>
<rect x="438.2" y="214.9" width="67.0" height="166.49999999999997" fill="#fff"/>
<g stroke="#ececec" stroke-width="0.45">
<line x1="442.6" y1="214.9" x2="442.6" y2="381.4"/>
<line x1="459.8" y1="214.9" x2="459.8" y2="381.4"/>
<line x1="477.0" y1="214.9" x2="477.0" y2="381.4"/>
<line x1="494.2" y1="214.9" x2="494.2" y2="381.4"/>
</g>
<g stroke="#e6e6e6" stroke-width="0.8">
<line x1="451.2" y1="214.9" x2="451.2" y2="381.4"/>
<line x1="468.4" y1="214.9" x2="468.4" y2="381.4"/>
<line x1="485.6" y1="214.9" x2="485.6" y2="381.4"/>
<line x1="502.8" y1="214.9" x2="502.8" y2="381.4"/>
<line x1="438.2" y1="221.30" x2="505.2" y2="221.30"/>
<line x1="438.2" y1="231.61" x2="505.2" y2="231.61"/>
<line x1="438.2" y1="241.92" x2="505.2" y2="241.92"/>
<line x1="438.2" y1="252.23" x2="505.2" y2="252.23"/>
<line x1="438.2" y1="262.54" x2="505.2" y2="262.54"/>
<line x1="438.2" y1="272.85" x2="505.2" y2="272.85"/>
<line x1="438.2" y1="283.16" x2="505.2" y2="283.16"/>
<line x1="438.2" y1="293.47" x2="505.2" y2="293.47"/>
<line x1="438.2" y1="303.78" x2="505.2" y2="303.78"/>
<line x1="438.2" y1="314.09" x2="505.2" y2="314.09"/>
<line x1="438.2" y1="324.40" x2="505.2" y2="324.40"/>
<line x1="438.2" y1="334.71" x2="505.2" y2="334.71"/>
<line x1="438.2" y1="345.02" x2="505.2" y2="345.02"/>
<line x1="438.2" y1="355.33" x2="505.2" y2="355.33"/>
<line x1="438.2" y1="365.64" x2="505.2" y2="365.64"/>
<line x1="438.2" y1="375.95" x2="505.2" y2="375.95"/>
</g>
<rect x="438.2" y="214.9" width="67.0" height="166.49999999999997" fill="none" stroke="#8a8a8a" stroke-width="0.8"/>
<g stroke="#444" stroke-width="0.6">
<line x1="436.4" y1="221.30" x2="438.2" y2="221.30"/>
<line x1="436.4" y1="231.61" x2="438.2" y2="231.61"/>
<line x1="436.4" y1="241.92" x2="438.2" y2="241.92"/>
<line x1="436.4" y1="252.23" x2="438.2" y2="252.23"/>
<line x1="436.4" y1="262.54" x2="438.2" y2="262.54"/>
<line x1="436.4" y1="272.85" x2="438.2" y2="272.85"/>
<line x1="436.4" y1="283.16" x2="438.2" y2="283.16"/>
<line x1="436.4" y1="293.47" x2="438.2" y2="293.47"/>
<line x1="436.4" y1="303.78" x2="438.2" y2="303.78"/>
<line x1="436.4" y1="314.09" x2="438.2" y2="314.09"/>
<line x1="436.4" y1="324.40" x2="438.2" y2="324.40"/>
<line x1="436.4" y1="334.71" x2="438.2" y2="334.71"/>
<line x1="436.4" y1="345.02" x2="438.2" y2="345.02"/>
<line x1="436.4" y1="355.33" x2="438.2" y2="355.33"/>
<line x1="436.4" y1="365.64" x2="438.2" y2="365.64"/>
<line x1="436.4" y1="375.95" x2="438.2" y2="375.95"/>
<line x1="451.2" y1="381.4" x2="451.2" y2="383.2"/>
<line x1="468.4" y1="381.4" x2="468.4" y2="383.2"/>
<line x1="485.6" y1="381.4" x2="485.6" y2="383.2"/>
<line x1="502.8" y1="381.4" x2="502.8" y2="383.2"/>
</g>
<g font-family='"Liberation Serif", serif' font-size="7.66" fill="#1a1a1a" text-anchor="end">
<text x="435.8" y="223.70">Alzheimer disease</text>
<text x="435.8" y="234.01">Neuroactive ligand−receptor interaction</text>
<text x="435.8" y="244.32">MAPK signaling pathway</text>
<text x="435.8" y="254.63">Lipid and atherosclerosis</text>
<text x="435.8" y="264.94">Apoptosis</text>
<text x="435.8" y="275.25">AGE−RAGE signaling pathway in diabetic complications</text>
<text x="435.8" y="285.56">Viral protein interaction with cytokine and cytokine receptor</text>
<text x="435.8" y="295.87">Serotonergic synapse</text>
<text x="435.8" y="306.18">Insulin resistance</text>
<text x="435.8" y="316.49">Fluid shear stress and atherosclerosis</text>
<text x="435.8" y="326.80">Rheumatoid arthritis</text>
<text x="435.8" y="337.11">PI3K−Akt signaling pathway</text>
<text x="435.8" y="347.42">Nicotine addiction</text>
<text x="435.8" y="357.73">Coronavirus disease − COVID−19</text>
<text x="435.8" y="368.04">Prostate cancer</text>
<text x="435.8" y="378.35">Axon guidance</text>
</g>
<circle cx="462.4" cy="221.30" r="3.1" fill="#ff1000"/>
<circle cx="454.4" cy="231.61" r="2.8" fill="#d6a018"/>
<circle cx="450.2" cy="241.92" r="2.3" fill="#7cd41c"/>
<circle cx="456.0" cy="252.23" r="2.3" fill="#8cc81c"/>
<circle cx="464.0" cy="262.54" r="2.2" fill="#74d21c"/>
<circle cx="474.9" cy="272.85" r="2.3" fill="#a2be1a"/>
<circle cx="468.0" cy="283.16" r="2.2" fill="#5ed81c"/>
<circle cx="463.6" cy="293.47" r="2.1" fill="#54da1c"/>
<circle cx="465.6" cy="303.78" r="2.2" fill="#62d41c"/>
<circle cx="458.2" cy="314.09" r="2.2" fill="#52da1c"/>
<circle cx="463.3" cy="324.40" r="2.0" fill="#30e21e"/>
<circle cx="441.6" cy="334.71" r="2.1" fill="#22e81e"/>
<circle cx="502.2" cy="345.02" r="2.1" fill="#7ed01c"/>
<circle cx="445.6" cy="355.33" r="2.4" fill="#22e81e"/>
<circle cx="454.9" cy="365.64" r="1.4" fill="#1ef01e"/>
<circle cx="445.1" cy="375.95" r="1.4" fill="#1ef01e"/>
<g font-family='"Liberation Serif", serif' font-size="7.5" fill="#333" text-anchor="middle">
<text x="451.2" y="389.6">0.025</text>
<text x="468.4" y="389.6">0.050</text>
<text x="485.6" y="389.6">0.075</text>
<text x="502.8" y="389.6">0.100</text>
</g>
<text x="452.9" y="400.1" font-family='"Liberation Sans", sans-serif' font-weight="bold" font-size="9.2" fill="#111" textLength="44.2" lengthAdjust="spacingAndGlyphs">Rich factor</text>
<rect x="512.4" y="254.8" width="8.6" height="39.6" fill="url(#gd)"/>
<g font-family='"Liberation Serif", serif' fill="#333">
<text x="513.1" y="250" font-size="5.9">−log<tspan font-size="4.1" dy="1.2">10</tspan><tspan dy="-1.2" font-style="italic">(pvalue)</tspan></text>
<text x="523.9" y="259.8" font-size="3.9">16</text>
<text x="523.9" y="270.1" font-size="3.9">12</text>
<text x="523.9" y="280.5" font-size="3.9">8</text>
<text x="523.9" y="291.2" font-size="3.9">4</text>
<text x="513.1" y="308.6" font-size="5.8">count</text>
<circle cx="516.8" cy="316.3" r="1.2" fill="#000"/>
<text x="523.3" y="317.90000000000003" font-size="4.6">3</text>
<circle cx="516.8" cy="324.2" r="2.1" fill="#000"/>
<text x="523.3" y="325.8" font-size="4.6">6</text>
<circle cx="516.8" cy="331.9" r="2.5" fill="#000"/>
<text x="523.3" y="333.5" font-size="4.6">9</text>
<circle cx="516.8" cy="339.8" r="2.8" fill="#000"/>
<text x="523.3" y="341.40000000000003" font-size="4.6">12</text>
<circle cx="516.8" cy="347.8" r="3.1" fill="#000"/>
<text x="523.3" y="349.40000000000003" font-size="4.6">15</text>
</g></svg></body></html>
